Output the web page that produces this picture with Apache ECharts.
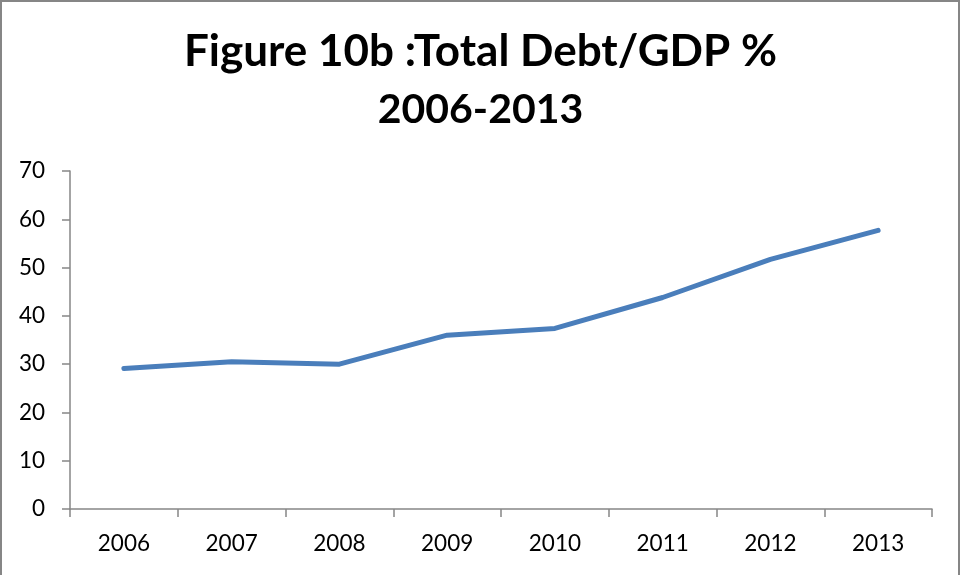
<!DOCTYPE html>
<html>
<head>
<meta charset="utf-8">
<script src="https://cdn.jsdelivr.net/npm/echarts@6/dist/echarts.min.js"></script>
<style>
  html, body { margin: 0; padding: 0; background: #fff; }
  #chart { width: 961px; height: 575px; }
</style>
</head>
<body>
<div id="chart"></div>
<script>
// Total debt as a share of GDP, yearly
const years = ['2006', '2007', '2008', '2009', '2010', '2011', '2012', '2013'];
const debtToGdp = [29.1, 30.5, 30.0, 36.0, 37.4, 43.8, 51.7, 57.7];
const yTicks = { min: 0, max: 70, interval: 10 };

const chart = echarts.init(document.getElementById('chart'), null, { renderer: 'canvas' });
const axisGray = '#868686';

chart.setOption({
  animation: false,
  backgroundColor: '#ffffff',
  title: {
    text: '{a|Figure 10b :Total Debt/GDP %}\n{b|2006-2013}',
    left: 'center',
    top: 18,
    textStyle: {
      fontFamily: 'Lato',
      fontWeight: 'bold',
      color: '#000000',
      rich: {
        a: { fontFamily: 'Lato', fontWeight: 'bold', fontSize: 44, lineHeight: 58, color: '#000' },
        b: { fontFamily: 'Lato', fontWeight: 'bold', fontSize: 41, lineHeight: 58, color: '#000' }
      }
    }
  },
  graphic: [{
    type: 'rect',
    silent: true,
    shape: { x: 1, y: 1, width: 958, height: 590 },
    style: { fill: 'none', stroke: axisGray, lineWidth: 2 }
  }],
  grid: { left: 70, right: 29, top: 171, bottom: 66 },
  xAxis: {
    type: 'category',
    data: years,
    boundaryGap: true,
    axisLine: { lineStyle: { color: axisGray, width: 1.5 } },
    axisTick: { show: true, length: 8, lineStyle: { color: axisGray, width: 1.5 } },
    axisLabel: { color: '#000', fontFamily: 'Lato', fontSize: 22.5, margin: 23 },
    splitLine: { show: false }
  },
  yAxis: {
    type: 'value',
    min: yTicks.min,
    max: yTicks.max,
    interval: yTicks.interval,
    axisLine: { show: true, lineStyle: { color: axisGray, width: 1.5 } },
    axisTick: { show: true, length: 8, lineStyle: { color: axisGray, width: 1.5 } },
    axisLabel: { color: '#000', fontFamily: 'Lato', fontSize: 22.5, margin: 25 },
    splitLine: { show: false }
  },
  series: [{
    type: 'line',
    data: debtToGdp,
    symbol: 'none',
    lineStyle: { color: '#4a7ebb', width: 5, cap: 'round', join: 'round' }
  }]
});
</script>
</body>
</html>
